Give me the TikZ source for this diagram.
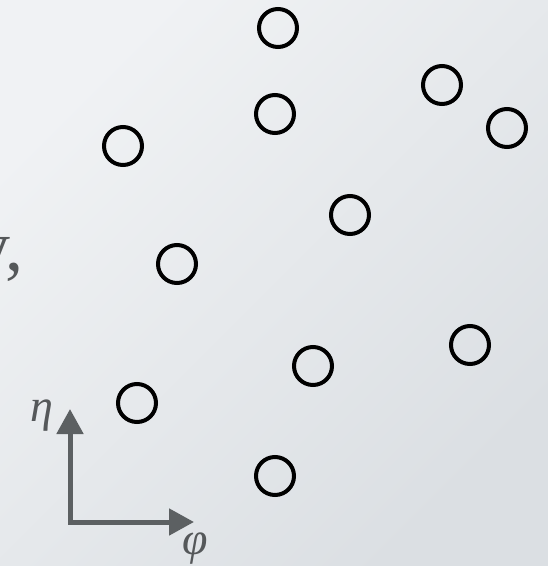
\documentclass[tikz,border=0pt]{standalone}
\usepackage{fontspec}
\setmainfont{Liberation Serif}
\usetikzlibrary{arrows.meta}
\definecolor{bgTL}{RGB}{240,242,244}
\definecolor{bgBR}{RGB}{219,223,227}
\definecolor{axisgray}{RGB}{92,96,98}
\definecolor{textgray}{RGB}{85,88,90}
\tikzset{
  particle/.style={circle, draw=black, line width=4pt, minimum size=38pt, inner sep=0pt},
  axisline/.style={draw=axisgray, line width=5pt, line join=miter,
    {Triangle[length=25pt,width=26pt]}-{Triangle[length=25pt,width=26pt]}},
  axislabel/.style={text=textgray, inner sep=0pt, font=\fontsize{46}{46}\selectfont\itshape},
}
\begin{document}
\begin{tikzpicture}[x=1pt,y=-1pt]
\useasboundingbox (0,0) rectangle (548,566);
\shade[top color=bgTL, bottom color=bgBR, shading angle=45] (0,0) rectangle (548,566);
% partial text at left edge
\node[anchor=base east, inner sep=0pt, text=textgray, font=\fontsize{72}{72}\selectfont] (cut) at (24,270) {y,};
% particles
\node[particle] (p1) at (278,28) {};
\node[particle] (p2) at (442,85) {};
\node[particle] (p3) at (507,128) {};
\node[particle] (p4) at (275,114) {};
\node[particle] (p5) at (123,146) {};
\node[particle] (p6) at (350,215) {};
\node[particle] (p7) at (177,264) {};
\node[particle] (p8) at (470,345) {};
\node[particle] (p9) at (313,366) {};
\node[particle] (p10) at (137,403) {};
\node[particle] (p11) at (275,476) {};
% axes
\coordinate (orig) at (70,522);
\coordinate (ytip) at (70,409);
\coordinate (xtip) at (194,522);
\draw[axisline] (ytip) -- (orig) -- (xtip);
\node[axislabel, anchor=base] (eta) at (42,421) {η};
\node[axislabel, anchor=base] (phi) at (195,554) {φ};
\end{tikzpicture}
\end{document}
